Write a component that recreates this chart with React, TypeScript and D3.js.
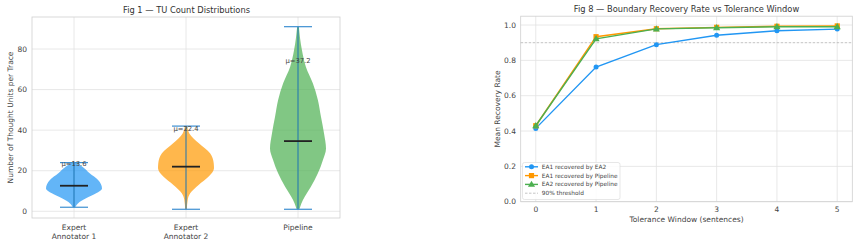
import * as d3 from 'd3';

// ---- Fig 1: violin data ----
const violinLabels = [['Expert', 'Annotator 1'], ['Expert', 'Annotator 2'], ['Pipeline']];
const violinColors = ['#2196F3', '#FF9800', '#4CAF50'];
// density profile: value along y, relative half-width
const violinValues = [
  [2.0, 3.9, 6.4, 8.9, 11.3, 15.4, 18.7, 22.0, 24.0],
  [1.0, 5.6, 8.9, 13.0, 17.1, 21.2, 23.7, 28.6, 33.5, 38.4, 42.0],
  [1.0, 3.9, 7.2, 12.1, 18.7, 25.3, 31.0, 38.4, 46.6, 54.9, 63.1, 71.3, 79.5, 91.0],
];
const violinWidths = [
  [0.04, 0.14, 0.43, 0.79, 1.0, 0.86, 0.56, 0.3, 0.06],
  [0.03, 0.06, 0.15, 0.45, 0.81, 1.0, 0.99, 0.86, 0.46, 0.12, 0.04],
  [0.05, 0.12, 0.24, 0.46, 0.71, 0.89, 1.0, 0.93, 0.82, 0.71, 0.53, 0.28, 0.14, 0.03],
];
const extrema = [[2, 24], [1, 42], [1, 91]];
const medians = [12.6, 22.0, 34.6];
const means = [13.6, 22.4, 37.2];
const meanLabelY = [23.3, 40.6, 74.4];
const yTicksLeft = [0, 20, 40, 60, 80];

// ---- Fig 8: recovery rates ----
const windows = [0, 1, 2, 3, 4, 5];
const ea1ByEa2 = [0.415, 0.762, 0.889, 0.942, 0.968, 0.977];
const ea1ByPipeline = [0.43, 0.934, 0.979, 0.987, 0.993, 0.995];
const ea2ByPipeline = [0.43, 0.922, 0.978, 0.985, 0.99, 0.99];
const seriesNames = ['EA1 recovered by EA2', 'EA1 recovered by Pipeline', 'EA2 recovered by Pipeline'];
const seriesColors = ['#2196F3', '#FF9800', '#4CAF50'];
const seriesMarkers = ['circle', 'square', 'triangle'];
const threshold = 0.9;
const yTicksRight = [0, 0.2, 0.4, 0.6, 0.8, 1.0];

const FONT = 'DejaVu Sans, sans-serif';
const TEXT = '#444';
const GRID = '#e2e2e2';
const SPINE = '#cfcfcf';
const TICK_FS = 7.5;
const TITLE_FS = 8.3;

function Marker({ kind, x, y, color }: { kind: string; x: number; y: number; color: string }) {
  if (kind === 'circle') return <circle cx={x} cy={y} r={2.5} fill={color} />;
  if (kind === 'square') return <rect x={x - 2.6} y={y - 2.6} width={5.2} height={5.2} fill={color} />;
  const sym = d3.symbol(d3.symbolTriangle, 22)();
  return <path d={sym ?? ''} transform={`translate(${x},${y + 0.4})`} fill={color} />;
}

function ViolinPanel() {
  const left = 32, right = 340, top = 17, bottom = 218;
  const x = d3.scaleLinear().domain([1, 3]).range([74, 298]);
  const y = d3.scaleLinear().domain([0, 80]).range([211.3, 49]);
  const half = 28;

  return (
    <g fontFamily={FONT}>
      <rect x={left} y={top} width={right - left} height={bottom - top} fill="#fff" />
      {yTicksLeft.map((t) => (
        <line key={t} x1={left} x2={right} y1={y(t)} y2={y(t)} stroke={GRID} strokeWidth={0.8} />
      ))}
      {violinLabels.map((_, i) => (
        <line key={i} x1={x(i + 1)} x2={x(i + 1)} y1={top} y2={bottom} stroke={GRID} strokeWidth={0.8} />
      ))}
      <rect x={left} y={top} width={right - left} height={bottom - top} fill="none" stroke={SPINE} strokeWidth={0.8} />

      {violinValues.map((vals, i) => {
        const cx = x(i + 1);
        const pts = vals.map((v, k) => [v, violinWidths[i][k]] as [number, number]);
        const area = d3
          .area<[number, number]>()
          .y((d) => y(d[0]))
          .x0((d) => cx - d[1] * half)
          .x1((d) => cx + d[1] * half)
          .curve(d3.curveMonotoneY);
        return (
          <g key={i}>
            <path d={area(pts) ?? ''} fill={violinColors[i]} fillOpacity={0.7} />
            <line x1={cx} x2={cx} y1={y(extrema[i][0])} y2={y(extrema[i][1])} stroke="#1f77b4" strokeWidth={1} />
            {extrema[i].map((e, k) => (
              <line key={k} x1={cx - 14} x2={cx + 14} y1={y(e)} y2={y(e)} stroke="#3d8fd1" strokeWidth={1.2} />
            ))}
            <line x1={cx - 14} x2={cx + 14} y1={y(medians[i])} y2={y(medians[i])} stroke="#222" strokeWidth={1.8} />
            <text x={cx} y={y(meanLabelY[i])} dy="0.35em" textAnchor="middle" fontSize={6.8} fill="#444">
              {`μ=${means[i]}`}
            </text>
          </g>
        );
      })}

      {yTicksLeft.map((t) => (
        <text key={t} x={27} y={y(t)} dy="0.35em" textAnchor="end" fontSize={TICK_FS} fill={TEXT}>
          {t}
        </text>
      ))}
      {violinLabels.map((lines, i) => (
        <text key={i} x={x(i + 1)} y={227.5} textAnchor="middle" fontSize={TICK_FS} fill={TEXT}>
          {lines.map((l, k) => (
            <tspan key={k} x={x(i + 1)} dy={k === 0 ? '0.35em' : 8.4}>
              {l}
            </tspan>
          ))}
        </text>
      ))}
      <text
        transform={`translate(10.5,${(top + bottom) / 2}) rotate(-90)`}
        textAnchor="middle"
        dy="0.35em"
        fontSize={TICK_FS}
        fill={TEXT}
      >
        Number of Thought Units per Trace
      </text>
      <text x={186.5} y={10} dy="0.35em" textAnchor="middle" fontSize={TITLE_FS} fill="#333">
        Fig 1 — TU Count Distributions
      </text>
    </g>
  );
}

function RecoveryPanel() {
  const x = d3.scaleLinear().domain([-0.25, 5.25]).range([520.7, 852.3]);
  const y = d3.scaleLinear().domain([0, 1.05]).range([201.7, 16.2]);
  const [left, right] = x.range();
  const [bottom, top] = y.range();
  const line = d3
    .line<number>()
    .x((_, i) => x(windows[i]))
    .y((d) => y(d));
  const allSeries = [ea1ByEa2, ea1ByPipeline, ea2ByPipeline];

  const legX = 522.5, legY = 162.5;
  const rows = [166.8, 175.6, 184.4, 193.2];

  return (
    <g fontFamily={FONT}>
      <rect x={left} y={top} width={right - left} height={bottom - top} fill="#fff" />
      {yTicksRight.map((t) => (
        <line key={t} x1={left} x2={right} y1={y(t)} y2={y(t)} stroke={GRID} strokeWidth={0.8} />
      ))}
      {windows.map((w) => (
        <line key={w} x1={x(w)} x2={x(w)} y1={top} y2={bottom} stroke={GRID} strokeWidth={0.8} />
      ))}
      <rect x={left} y={top} width={right - left} height={bottom - top} fill="none" stroke={SPINE} strokeWidth={0.8} />
      <line x1={left} x2={right} y1={y(threshold)} y2={y(threshold)} stroke="#aaa" strokeWidth={0.7} strokeDasharray="2.5,1.5" />

      {allSeries.map((s, i) => (
        <g key={i}>
          <path d={line(s) ?? ''} fill="none" stroke={seriesColors[i]} strokeWidth={1.4} />
          {s.map((v, k) => (
            <Marker key={k} kind={seriesMarkers[i]} x={x(windows[k])} y={y(v)} color={seriesColors[i]} />
          ))}
        </g>
      ))}

      {yTicksRight.map((t) => (
        <text key={t} x={516} y={y(t)} dy="0.35em" textAnchor="end" fontSize={TICK_FS} fill={TEXT}>
          {t.toFixed(1)}
        </text>
      ))}
      {windows.map((w) => (
        <text key={w} x={x(w)} y={209} dy="0.35em" textAnchor="middle" fontSize={TICK_FS} fill={TEXT}>
          {w}
        </text>
      ))}
      <text x={(left + right) / 2} y={219.5} dy="0.35em" textAnchor="middle" fontSize={TICK_FS} fill={TEXT}>
        Tolerance Window (sentences)
      </text>
      <text
        transform={`translate(497,${(top + bottom) / 2}) rotate(-90)`}
        textAnchor="middle"
        dy="0.35em"
        fontSize={TICK_FS}
        fill={TEXT}
      >
        Mean Recovery Rate
      </text>
      <text x={(left + right) / 2} y={9.5} dy="0.35em" textAnchor="middle" fontSize={TITLE_FS} fill="#333">
        Fig 8 — Boundary Recovery Rate vs Tolerance Window
      </text>

      <rect x={legX} y={legY} width={97.5} height={37} rx={2} fill="#fff" fillOpacity={0.85} stroke="#ddd" strokeWidth={0.7} />
      {seriesNames.map((n, i) => (
        <g key={n}>
          <line x1={525} x2={538} y1={rows[i]} y2={rows[i]} stroke={seriesColors[i]} strokeWidth={1.4} />
          <Marker kind={seriesMarkers[i]} x={531.5} y={rows[i]} color={seriesColors[i]} />
          <text x={541.8} y={rows[i]} dy="0.35em" fontSize={5.8} fill={TEXT}>
            {n}
          </text>
        </g>
      ))}
      <line x1={525} x2={538} y1={rows[3]} y2={rows[3]} stroke="#aaa" strokeWidth={0.7} strokeDasharray="2.5,1.5" />
      <text x={541.8} y={rows[3]} dy="0.35em" fontSize={5.8} fill={TEXT}>
        90% threshold
      </text>
    </g>
  );
}

export default function App() {
  return (
    <div style={{ position: 'fixed', left: 0, top: 0 }}>
      <svg width={859} height={245} style={{ display: 'block', background: '#fff' }}>
        <ViolinPanel />
        <RecoveryPanel />
      </svg>
    </div>
  );
}
